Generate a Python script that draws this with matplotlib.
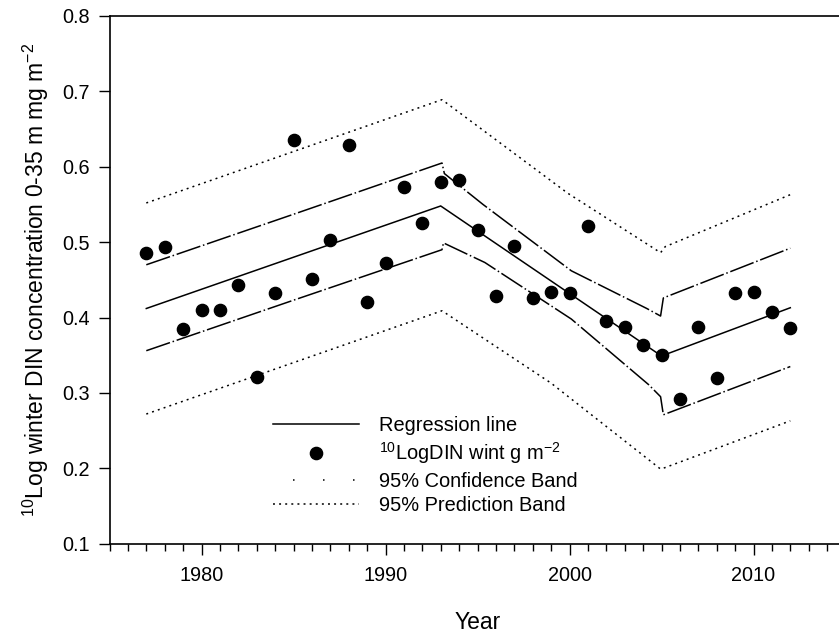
import matplotlib
matplotlib.use("Agg")
import matplotlib.pyplot as plt
from matplotlib.lines import Line2D

plt.rcParams['font.family'] = ['Liberation Sans', 'DejaVu Sans']
plt.rcParams['mathtext.fontset'] = 'custom'
plt.rcParams['mathtext.rm'] = 'Liberation Sans'
plt.rcParams['mathtext.it'] = 'Liberation Sans:italic'
plt.rcParams['mathtext.bf'] = 'Liberation Sans:bold'
plt.rcParams['lines.scale_dashes'] = False

# Observed winter DIN (10log), 1977-2012
years = list(range(1977, 2013))
log_din = [0.485, 0.493, 0.385, 0.410, 0.410, 0.443, 0.321, 0.432, 0.636, 0.451,
           0.503, 0.629, 0.421, 0.472, 0.573, 0.526, 0.580, 0.582, 0.516, 0.429,
           0.495, 0.426, 0.434, 0.432, 0.521, 0.396, 0.388, 0.364, 0.350, 0.292,
           0.387, 0.320, 0.433, 0.434, 0.407, 0.386]

# Piecewise regression line (breakpoints 1993 and 2005)
reg_x = [1977, 1993, 2005, 2012]
reg_y = [0.412, 0.548, 0.349, 0.413]

# 95% confidence band
cb_up_x = [1977, 1985, 1993.07, 1993.2, 1995.3, 2000.1, 2004.2, 2004.95, 2005.1, 2012]
cb_up_y = [0.470, 0.537, 0.605, 0.591, 0.550, 0.462, 0.412, 0.402, 0.426, 0.492]
cb_lo_x = [1977, 1985, 1993.07, 1993.15, 1995.4, 2000.1, 2004.3, 2004.95, 2005.1, 2012]
cb_lo_y = [0.356, 0.423, 0.490, 0.499, 0.473, 0.398, 0.311, 0.295, 0.271, 0.335]

# 95% prediction band
pb_up_x = [1977, 1993.07, 1999.9, 2004.95, 2005.2, 2012]
pb_up_y = [0.552, 0.689, 0.565, 0.486, 0.494, 0.563]
pb_lo_x = [1977, 1993.07, 1999.0, 2004.95, 2005.2, 2012]
pb_lo_y = [0.272, 0.409, 0.313, 0.199, 0.201, 0.263]

fig = plt.figure(figsize=(8.39, 6.33), dpi=100)
ax = fig.add_axes([109.5 / 839, 89.3 / 633, 736 / 839, 527.7 / 633])

lw = 1.1
cb_dash = (0, (18, 2.0, 1.1, 2.0))
pb_dot = (0, (1.4, 3.0))

ax.plot(reg_x, reg_y, color='black', lw=lw, solid_joinstyle='miter')
ax.plot(years, log_din, 'o', color='black', ms=8.8, zorder=5)
ax.plot(cb_up_x, cb_up_y, color='black', lw=lw, linestyle=cb_dash)
ax.plot(cb_lo_x, cb_lo_y, color='black', lw=lw, linestyle=cb_dash)
ax.plot(pb_up_x, pb_up_y, color='black', lw=lw, linestyle=pb_dot)
ax.plot(pb_lo_x, pb_lo_y, color='black', lw=lw, linestyle=pb_dot)

ax.set_xlim(1975, 2015)
ax.set_ylim(0.1, 0.8)
ax.set_xticks([1980, 1990, 2000, 2010])
ax.set_xticks(list(range(1975, 2016)), minor=True)
ax.set_yticks([0.1, 0.2, 0.3, 0.4, 0.5, 0.6, 0.7, 0.8])
ax.set_yticklabels(['0.1', '0.2', '0.3', '0.4', '0.5', '0.6', '0.7', '0.8'])

ax.tick_params(axis='both', which='major', direction='out', length=8, width=1,
               labelsize=14.3, color='black')
ax.tick_params(axis='x', which='major', pad=8)
ax.tick_params(axis='y', which='major', pad=6)
ax.tick_params(axis='x', which='minor', direction='out', length=5, width=1)
ax.tick_params(axis='y', which='minor', left=False)
for side in ('left', 'bottom', 'top', 'right'):
    ax.spines[side].set_linewidth(1.2)

ax.set_xlabel('Year', fontsize=16.5, labelpad=19)
ax.set_ylabel(r'$^{10}$Log winter DIN concentration 0-35 m mg m$^{-2}$',
              fontsize=16.5, labelpad=8)

handles = [
    Line2D([], [], color='black', lw=lw),
    Line2D([], [], color='black', marker='o', ms=8.8, linestyle='none'),
    Line2D([], [], color='black', lw=lw, linestyle=(7.2, (1.1, 20.5))),
    Line2D([], [], color='black', lw=lw, linestyle=pb_dot),
]
labels = ['Regression line', r'$^{10}$LogDIN wint g m$^{-2}$',
          '95% Confidence Band', '95% Prediction Band']
fig.legend(handles, labels, loc='upper left', bbox_to_anchor=(273 / 839, 1 - 416 / 633),
           bbox_transform=fig.transFigure, frameon=False, fontsize=14.4,
           handlelength=4.3, handletextpad=1.0, labelspacing=0.27,
           borderpad=0, borderaxespad=0, numpoints=1)

fig.savefig('out.png', dpi=100)
